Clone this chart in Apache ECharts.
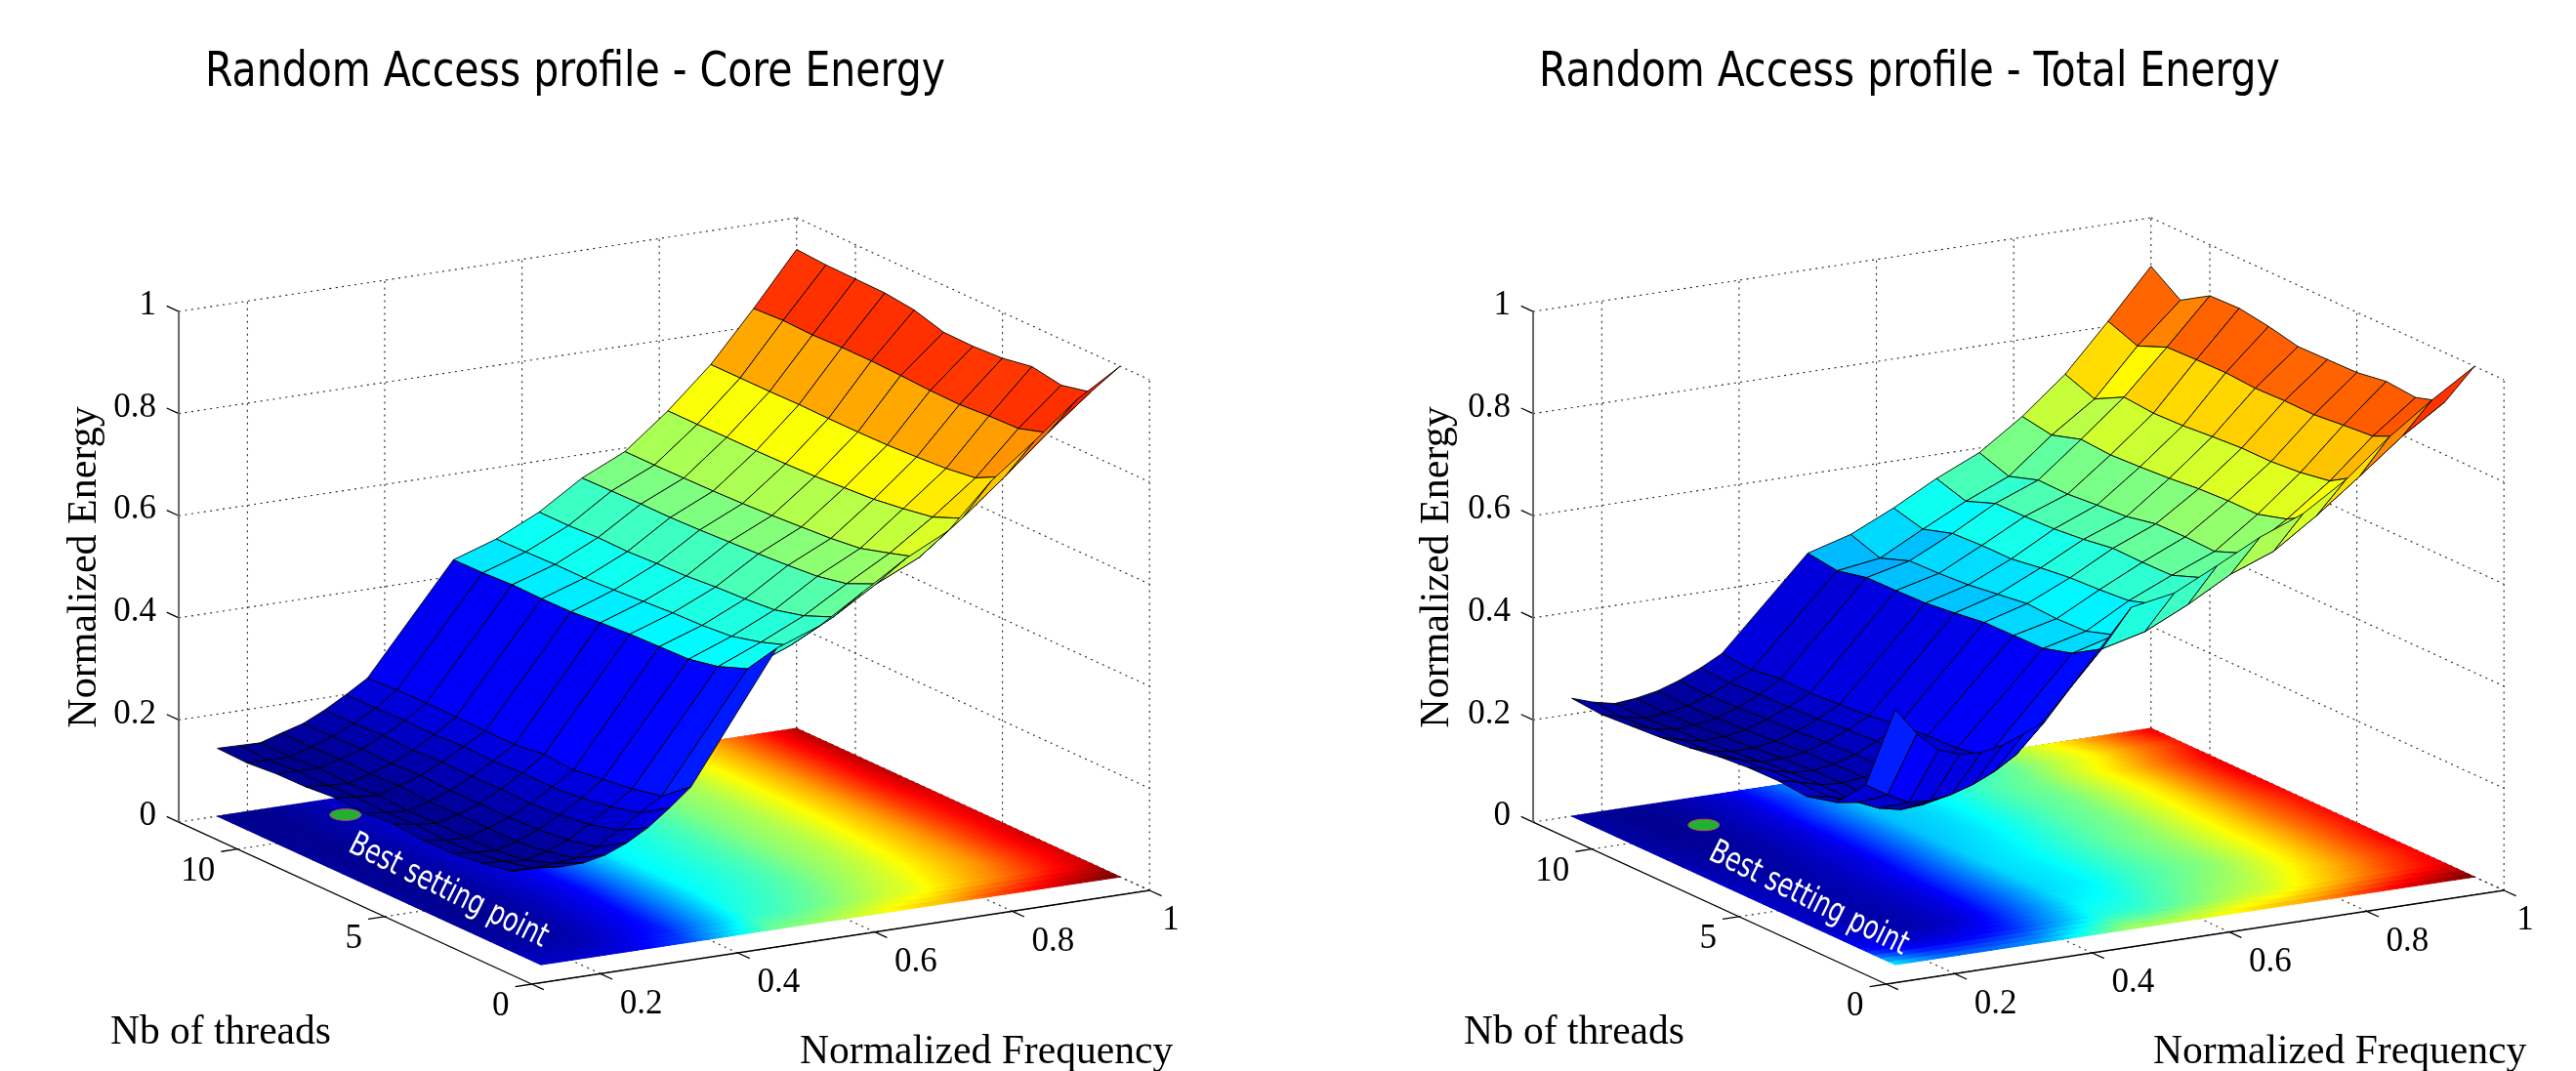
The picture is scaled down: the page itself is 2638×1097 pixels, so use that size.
<!DOCTYPE html>
<html><head><meta charset="utf-8">
<style>html,body{margin:0;padding:0;background:#fff}#c{width:2638px;height:1097px}</style>
<script src="https://cdn.jsdelivr.net/npm/echarts@6/dist/echarts.min.js"></script>
</head><body><div id="c"></div>
<script>
// ---------- data ----------
const chartTitles = ['Random Access profile - Core Energy', 'Random Access profile - Total Energy'];
const zAxisName = 'Normalized Energy';
const threadAxisName = 'Nb of threads';
const freqAxisName = 'Normalized Frequency';
const annotation = 'Best setting point';
const freqTicks = [0.2, 0.4, 0.6, 0.8, 1];
const threadTicks = [0, 5, 10];
const energyTicks = [0, 0.2, 0.4, 0.6, 0.8, 1];
const freqLevels = [0.15625,0.1875,0.21875,0.25,0.28125,0.3125,0.34375,0.375,0.5,0.5625,0.625,0.6875,0.75,0.8125,0.875,0.9375,1];
const threadLevels = [1,2,3,4,5,6,7,8,9,10,11,12];
const bestCore = [0.3, 11];
const bestTotal = [0.28, 10.4];
// rows: freqLevels, columns: threadLevels
const coreEnergy = [
[.190,.157,.146,.139,.138,.143,.139,.142,.137,.136,.131,.133],
[.186,.157,.143,.134,.132,.136,.133,.137,.133,.135,.130,.132],
[.187,.159,.139,.132,.130,.132,.130,.134,.131,.134,.130,.131],
[.196,.163,.150,.143,.143,.143,.142,.146,.143,.146,.143,.144],
[.213,.179,.166,.160,.157,.158,.157,.160,.157,.159,.157,.156],
[.237,.205,.190,.182,.178,.180,.178,.180,.177,.179,.176,.176],
[.269,.233,.218,.209,.204,.205,.202,.204,.201,.202,.200,.200],
[.304,.259,.247,.239,.231,.235,.228,.228,.229,.230,.229,.226],
[.550,.483,.461,.449,.447,.445,.441,.436,.435,.436,.433,.432],
[.581,.516,.496,.481,.476,.474,.470,.466,.463,.463,.461,.460],
[.634,.559,.535,.520,.515,.512,.507,.505,.502,.503,.500,.500],
[.687,.611,.585,.573,.568,.564,.561,.558,.556,.556,.555,.554],
[.729,.650,.632,.615,.608,.604,.600,.597,.595,.594,.593,.593],
[.814,.714,.690,.680,.672,.668,.664,.662,.661,.661,.660,.660],
[.879,.783,.754,.746,.742,.739,.738,.738,.739,.738,.738,.738],
[.948,.856,.838,.836,.832,.833,.836,.838,.838,.836,.838,.835],
[1.00,.923,.910,.920,.910,.907,.908,.925,.932,.933,.934,.938]
];
const totalEnergy = [
[.500,.326,.265,.250,.255,.254,.249,.240,.234,.230,.226,.231],
[.446,.300,.259,.243,.245,.242,.236,.227,.222,.218,.213,.217],
[.408,.279,.241,.232,.234,.231,.226,.219,.214,.210,.206,.208],
[.393,.276,.232,.229,.231,.229,.226,.220,.216,.212,.209,.212],
[.390,.282,.235,.235,.236,.235,.232,.227,.223,.220,.217,.220],
[.398,.295,.250,.249,.248,.248,.245,.240,.237,.234,.231,.234],
[.414,.314,.272,.270,.267,.267,.263,.258,.255,.253,.249,.252],
[.433,.340,.310,.300,.298,.293,.284,.280,.276,.277,.269,.274],
[.630,.522,.487,.470,.469,.468,.460,.453,.451,.450,.437,.445],
[.645,.543,.510,.491,.489,.492,.484,.476,.472,.470,.449,.469],
[.686,.583,.557,.538,.533,.530,.523,.514,.514,.511,.493,.508],
[.729,.630,.597,.575,.574,.575,.566,.560,.558,.557,.535,.553],
[.762,.662,.632,.609,.611,.610,.598,.594,.589,.590,.571,.591],
[.816,.719,.686,.669,.669,.666,.660,.656,.653,.657,.639,.649],
[.886,.783,.748,.738,.733,.733,.729,.724,.722,.727,.697,.719],
[.946,.849,.823,.818,.812,.813,.811,.815,.814,.812,.788,.810],
[1.00,.904,.886,.891,.882,.881,.880,.893,.902,.900,.865,.905]
];
// ---------- view of the 3-D box (orthographic, as the source plot) ----------
const jet = ['#00008f','#0000ff','#0080ff','#00ffff','#80ff80','#ffff00','#ff8000','#ff0000','#800000'];
const fMin = 0.1, fMax = 1, tMin = 0, tMax = 12;
const view = {ox:[544.5,1931.5], oy:1008, fx:703, fy:-106.67, tx:-30.12, ty:-13.83, zy:-523};
function project(c,f,t,z){
  return [view.ox[c]+(f-fMin)*view.fx+t*view.tx, view.oy+(f-fMin)*view.fy+t*view.ty+z*view.zy];
}
const SERIF='"Liberation Serif"', SANS='"DejaVu Sans"';
// ---------- frame: grid lines, axes, ticks ----------
function frameLines(){
  const L=[]; // f0,t0,z0,f1,t1,z1,kind (0 dotted, 1 solid black, 2 solid grey)
  energyTicks.forEach(z=>{
    L.push([fMin,tMax,z,fMax,tMax,z,0]);
    L.push([fMax,tMax,z,fMax,tMin,z,0]);
    L.push([fMin,tMax,z,fMin,tMax+0.41,z,1]);
  });
  [fMin].concat(freqTicks).forEach(f=>{
    if(f!==fMin) L.push([f,tMax,0,f,tMax,1,0]);
    if(f!==fMin) L.push([f,tMin,0,f,tMax,0,0]);
    L.push([f,tMin,0,f,tMin-0.41,0,1]);
  });
  threadTicks.forEach(t=>{
    L.push([fMin,t,0,fMax,t,0,0]);
    L.push([fMin,t,0,fMin-0.024,t,0,1]);
    L.push([fMax,t,0,fMax,t,1,0]);
  });
  L.push([fMin,tMin,0,fMin,tMax,0,1]);
  L.push([fMin,tMin,0,fMax,tMin,0,1]);
  L.push([fMin,tMax,0,fMin,tMax,1,2]);
  return L;
}
function frameRender(c){
  return function(p,api){
    const a=project(c,api.value(0),api.value(1),api.value(2));
    const b=project(c,api.value(3),api.value(4),api.value(5));
    const k=api.value(6), A=api.coord(a), B=api.coord(b);
    return {type:'line',shape:{x1:A[0],y1:A[1],x2:B[0],y2:B[1]},
      style:k===0?{stroke:'#222',lineWidth:1.1,lineDash:[2,4.5]}:{stroke:k===1?'#000':'#666',lineWidth:k===2?2:1.3}};
  };
}
function tickData(){
  const d=[];
  energyTicks.forEach(z=>d.push([fMin,tMax,z,0,String(z)]));
  threadTicks.forEach(t=>d.push([fMin,t,0,1,String(t)]));
  freqTicks.forEach(f=>d.push([f,tMin,0,2,String(f)]));
  return d;
}
function tickRender(c){
  return function(p,api){
    const P=api.coord(project(c,api.value(0),api.value(1),api.value(2)));
    const k=api.value(3), s=tickData()[p.dataIndex][4];
    const dx=k===2?(s.length===1?13:20):-23, dy=[-6,23,31][k];
    return {type:'text',x:P[0]+dx,y:P[1]+dy,style:{text:s,
      font:'35px '+SERIF,fill:'#000',align:k===2?'left':'right',verticalAlign:'middle'}};
  };
}
// ---------- surface: flat cells, far to near, colour from the far-thread corner ----------
function surfaceData(Z){
  const d=[];
  for(let i=freqLevels.length-2;i>=0;i--) for(let j=threadLevels.length-2;j>=0;j--)
    d.push([freqLevels[i],freqLevels[i+1],threadLevels[j],threadLevels[j+1],Z[i][j],Z[i][j+1],Z[i+1][j],Z[i+1][j+1],Z[i][j+1]]);
  return d;
}
function surfaceRender(c){
  return function(p,api){
    const v=i=>api.value(i);
    const pts=[[v(0),v(2),v(4)],[v(0),v(3),v(5)],[v(1),v(3),v(7)],[v(1),v(2),v(6)]]
      .map(q=>api.coord(project(c,q[0],q[1],q[2])));
    return {type:'polygon',shape:{points:pts},style:{fill:api.visual('color'),stroke:'#000',lineWidth:0.9,lineJoin:'round'}};
  };
}
// ---------- floor: same values, smoothly shaded ----------
function floorData(Z){
  const d=[], tSub=4;
  for(let i=0;i<freqLevels.length-1;i++){
    const f0=freqLevels[i],f1=freqLevels[i+1],fSub=Math.max(3,Math.round((f1-f0)*140));
    for(let j=0;j<threadLevels.length-1;j++){
      const t0=threadLevels[j],t1=threadLevels[j+1];
      for(let a=0;a<fSub;a++) for(let b=0;b<tSub;b++){
        const u=(a+.5)/fSub,w=(b+.5)/tSub;
        const z=(1-u)*((1-w)*Z[i][j]+w*Z[i][j+1])+u*((1-w)*Z[i+1][j]+w*Z[i+1][j+1]);
        d.push([f0+(f1-f0)*a/fSub,f0+(f1-f0)*(a+1)/fSub,t0+(t1-t0)*b/tSub,t0+(t1-t0)*(b+1)/tSub,z]);
      }
    }
  }
  return d;
}
function floorRender(c){
  return function(p,api){
    const f0=api.value(0),f1=api.value(1),t0=api.value(2),t1=api.value(3);
    const pts=[[f0,t0],[f0,t1],[f1,t1],[f1,t0]].map(q=>api.coord(project(c,q[0],q[1],0)));
    const col=api.visual('color');
    return {type:'polygon',shape:{points:pts},style:{fill:col,stroke:col,lineWidth:1}};
  };
}
function dotRender(c){
  return function(p,api){
    const P=api.coord(project(c,api.value(0),api.value(1),0));
    return {type:'ellipse',shape:{cx:P[0],cy:P[1],rx:16,ry:5.8},style:{fill:'#22b033',stroke:'#c05050',lineWidth:1}};
  };
}
const base={type:'custom',coordinateSystem:'cartesian2d',silent:true,animation:false,progressive:0,clip:false};
const series=[], visualMap=[];
[coreEnergy,totalEnergy].forEach((Z,c)=>{
  const all=Z.flat(), lo=Math.min(...all), hi=Math.max(...all)-0.015;
  series.push(Object.assign({},base,{data:frameLines(),renderItem:frameRender(c)}));
  series.push(Object.assign({},base,{data:tickData().map(r=>r.slice(0,4)),renderItem:tickRender(c)}));
  visualMap.push({show:false,seriesIndex:series.length,dimension:4,min:lo,max:hi,inRange:{color:jet}});
  series.push(Object.assign({},base,{data:floorData(Z),renderItem:floorRender(c)}));
  series.push(Object.assign({},base,{data:[c?bestTotal:bestCore],renderItem:dotRender(c)}));
  visualMap.push({show:false,seriesIndex:series.length,dimension:8,min:lo,max:hi,inRange:{color:jet}});
  series.push(Object.assign({},base,{data:surfaceData(Z),renderItem:surfaceRender(c)}));
});
// ---------- text ----------
function textEl(text,x,y,font,opts){
  return Object.assign({type:'text',x:x,y:y,z:10,silent:true,
    style:{text:text,font:font,fill:(opts&&opts.fill)||'#000',align:(opts&&opts.align)||'left',verticalAlign:'middle'}},
    opts&&opts.el);
}
const graphics=[];
[0,1].forEach(c=>{
  const d=c?1386:0;
  graphics.push(textEl(chartTitles[c],210+(c?1366:0),75,'50px '+SANS,{el:{scaleX:0.82}}));
  graphics.push(textEl(zAxisName,87+d-(c?1:0),581,'42px '+SERIF,{align:'center',el:{rotation:Math.PI/2}}));
  graphics.push(textEl(threadAxisName,113+d,1058,'41.5px '+SERIF));
  graphics.push(textEl(freqAxisName,819+d,1078,'41.6px '+SERIF));
  graphics.push(textEl(annotation,c?1852:459,c?921:913,'34px '+SANS,{fill:'#fff',align:'center',el:{rotation:-0.46,scaleX:0.74}}));
});
const chart=echarts.init(document.getElementById('c'),null,{renderer:'canvas'});
chart.setOption({
  backgroundColor:'#fff',animation:false,
  grid:{left:0,top:0,width:2638,height:1097},
  xAxis:{type:'value',min:0,max:2638,show:false},
  yAxis:{type:'value',min:0,max:1097,inverse:true,show:false},
  visualMap:visualMap,series:series,graphic:{elements:graphics}
});
</script></body></html>
